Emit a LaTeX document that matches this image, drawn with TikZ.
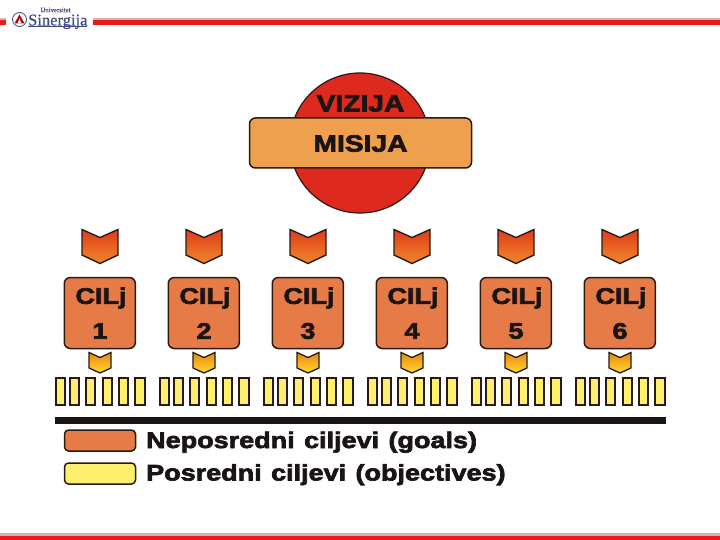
\documentclass[tikz,border=0pt]{standalone}
\usepackage{fontspec}
\setmainfont{Liberation Sans}
\newfontfamily\heavy[FakeStretch=1.2,FakeBold=3,WordSpace=1.25]{Liberation Sans Bold}
\newfontfamily\logofont[FakeBold=0.6]{Liberation Serif}
\definecolor{outl}{HTML}{2A1A12}
\definecolor{goalfill}{HTML}{E67B48}
\definecolor{misfill}{HTML}{EFA04E}
\definecolor{circfill}{HTML}{DE2A1E}
\definecolor{objfill}{HTML}{FDF06E}
\definecolor{barred}{HTML}{E81A1A}
\definecolor{bargrey}{HTML}{D9B0B0}
\definecolor{logoblue}{HTML}{3F4A85}
\definecolor{txt}{HTML}{1A1414}
\definecolor{E1}{HTML}{DD3A1C}
\definecolor{E2}{HTML}{F08A2A}
\definecolor{S1}{HTML}{E88A12}
\definecolor{S2}{HTML}{FFD92E}
\tikzset{
  goalbox/.style={draw=outl,line width=1.5pt,fill=goalfill,rounded corners=6pt},
  legendbox/.style={draw=outl,line width=1.5pt,rounded corners=4pt},
  cell/.style={draw=outl,line width=2pt,fill=objfill},
  bigchev/.style={draw=outl,line width=1.4pt,line join=miter,top color=E1,bottom color=E2},
  smallchev/.style={draw=outl,line width=1.3pt,top color=S1,bottom color=S2},
  heavytext/.style={text=txt,inner sep=0pt,font=\heavy},
}
\begin{document}
\begin{tikzpicture}[x=1pt,y=-1pt]
\useasboundingbox (0,0) rectangle (720,540);
% header and footer bands
\fill[bargrey] (0,18) rectangle (6,20);
\fill[barred] (0,20) rectangle (6,25);
\fill[bargrey] (93,18) rectangle (720,20);
\fill[barred] (93,20) rectangle (720,25);
\fill[bargrey] (0,533) rectangle (720,536);
\fill[barred] (0,536) rectangle (720,540);
% logo
\draw[draw=logoblue,line width=0.8pt,fill=white] (19.5,19.5) circle (7);
\fill[red!70!black] (19.5,14.5) -- (24.5,23.5) -- (14.5,23.5) -- cycle;
\fill[white] (19.5,18.5) -- (21.5,23.5) -- (17.5,23.5) -- cycle;
\node[text=logoblue,inner sep=0pt,anchor=center,font=\logofont\fontsize{6.8}{7}\selectfont] (univ) at (55.5,10) {Universitet};
\node[text=logoblue,inner sep=0pt,anchor=base west,font=\logofont\fontsize{16.5}{18}\selectfont] (siner) at (28,25.5) {Sinergija};
\draw[logoblue,line width=0.6pt] (28,26.5) -- (87,26.5);
% circle and bar
\node[draw=outl,line width=1.2pt,fill=circfill,circle,minimum size=140pt,inner sep=0pt] (vcirc) at (360,143) {};
\node[goalbox,fill=misfill,minimum width=222pt,minimum height=50pt,inner sep=0pt,rounded corners=6pt] (mis) at (360.5,143) {};
\node[heavytext,font=\heavy\fontsize{23.5}{24}\selectfont] (viz) at (360.5,103.5) {VIZIJA};
\node[heavytext,font=\heavy\fontsize{23.5}{24}\selectfont] (mist) at (360.5,143.5) {MISIJA};
% repeated columns
\foreach \i/\c in {1/100,2/204,3/308,4/412,5/516,6/620}{
  \draw[bigchev] (\c-18,229.5) -- (\c,237.5) -- (\c+18,229.5) -- (\c+18,255) -- (\c,263.5) -- (\c-18,255) -- cycle;
  \node[goalbox,minimum width=71pt,minimum height=71pt,inner sep=0pt] (g\i) at (\c-.2,313) {};
  \node[heavytext,font=\heavy\fontsize{22.5}{24}\selectfont] (gt\i) at (\c+1,298) {CILj};
  \node[heavytext,font=\heavy\fontsize{22.5}{24}\selectfont] (gn\i) at (\c,331) {\i};
  \draw[smallchev] (\c-11,352.5) -- (\c,357.5) -- (\c+11,352.5) -- (\c+11,368) -- (\c,373) -- (\c-11,368) -- cycle;
  \foreach \j/\a/\b in {1/-44/-35,2/-30/-21.5,3/-14/-5,4/3/11.5,5/19/28,6/35/45}{
    \draw[cell] (\c+\a,378) rectangle (\c+\b,404.5);
  }
}
% rule
\fill[txt] (55,416.5) rectangle (665.5,424);
% legend
\node[legendbox,fill=goalfill,minimum width=71pt,minimum height=21pt,inner sep=0pt] (lg1) at (100,440.5) {};
\node[legendbox,fill=objfill,minimum width=71pt,minimum height=21pt,inner sep=0pt] (lg2) at (100,473.5) {};
\node[heavytext,anchor=base west,font=\heavy\fontsize{22.5}{24}\selectfont] (lt1) at (146,448) {Neposredni ciljevi (goals)};
\node[heavytext,anchor=base west,font=\heavy\fontsize{22.5}{24}\selectfont] (lt2) at (146,480.5) {Posredni ciljevi (objectives)};
\end{tikzpicture}
\end{document}
